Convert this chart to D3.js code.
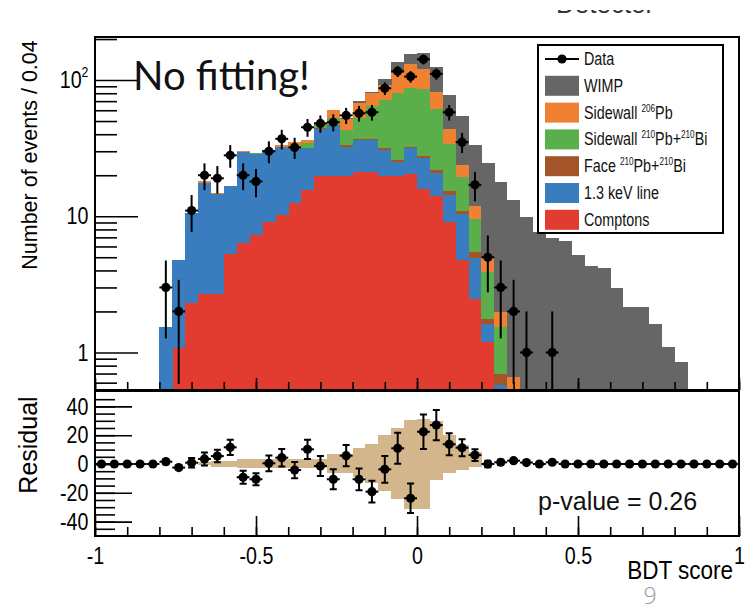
<!DOCTYPE html>
<html>
<head>
<meta charset="utf-8">
<script src="https://cdn.jsdelivr.net/npm/d3@7"></script>
<style>
body { margin: 0; background: #fff; }
svg { display: block; }
</style>
</head>
<body>
<svg width="747" height="611"></svg>
<script>
// 50 bins of 0.04 from -1 to 1
const binStart = -1, binWidth = 0.04

const dataCounts = [0,0,0,0,0, 3,2,11,20,19, 28,20,18,30,37, 32,45,48,49,55,
  57,58,87,116,106, 142,111,58,35,17, 5,3,2,1,0, 1,0,0,0,0, 0,0,0,0,0, 0,0,0,0,0]

const comptons = [0,0,0,0,0, 0.3,1.07,2.3,2.67,2.67, 5.25,6.4,7.25,9.0,10.2, 12.5,15.5,19.8,19.8,19.8,
  21,21,19.8,19.8,20.4, 15.8,14.0,9.0,4.75,2.48, 1.19,0.45,0.1,0.02,0, 0,0,0,0,0, 0,0,0,0,0, 0,0,0,0,0]
const keVLine = [0,0,0,0,0, 1.25,3.73,8.3,14.73,11.83, 11.35,23.1,21.45,21.4,21.8, 18.5,16.0,24.2,26.2,12.5,
  15.2,15.2,11.0,5.2,11.1, 10.8,6.6,5.4,5.55,2.42, 0.43,0.13,0.05,0.02,0, 0,0,0,0,0, 0,0,0,0,0, 0,0,0,0,0]
const face = [0,0,0,0,0, 0,0,0,0.1,0, 0,0.1,0.1,0.1,0.1, 0.2,0.3,0.3,0.4,0.9,
  1.0,1.0,1.0,1.0,1.0, 1.2,1.2,0.9,0.7,0.6, 0.15,0.12,0.05,0.02,0, 0,0,0,0,0, 0,0,0,0,0, 0,0,0,0,0]
const sidewall210 = [0,0,0,0,0, 0,0,0,0.1,0.1, 0.1,0.1,0.1,0.1,0.4, 1.8,2.5,2.2,6.6,9.8,
  15.1,27.2,39.5,54.0,55.5, 58.2,39.2,18.7,8.3,4.1, 2.13,0.85,0.25,0.09,0.04, 0.02,0,0,0,0, 0,0,0,0,0, 0,0,0,0,0]
const sidewall206 = [0,0,0,0,0, 0,0,0,0.4,0.1, 0.1,0.2,0.2,0.2,1.0, 2.0,1.9,2.9,7.0,8.7,
  15.1,15.4,20.6,32,43.0, 34.0,21.0,10.0,4.4,2.3, 1.1,0.43,0.21,0.15,0.06, 0.03,0.02,0,0,0, 0,0,0,0,0, 0,0,0,0,0]
const wimp = [0,0,0,0,0, 0,0,0,0,0, 0,0,0,0,0.1, 0.1,0.2,0.2,0.3,0.5,
  2.6,1.7,9.1,23,25, 39,43,34,30.3,21.6, 19.5,15.9,12.4,9.6,7.5, 6.85,6.6,5.2,4.3,4.2,
  2.95,2.15,2.15,1.63,1.09, 0.85,0.45,0.3,0.2,0.12]

const residual = [0,0,0,0,0, 1.6,-2.5,0.9,3.5,5.5, 11.6,-9.2,-10.6,0.5,4.4, -4.2,10.2,-1.4,-10.6,5.8,
  -10.6,-19.2,-3.7,10.9,-23.8, 22.4,27,13.7,11.3,6.2, 0,1.2,2.3,1.0,0, 1.2,0,0,0,0, 0,0,0,0,0, 0,0,0,0,0]
const bandHi = [0,0,0,0,0, 0,0,0,1.5,2, 2,3.5,3.5,3.5,3.5, 3.5,3.5,3.5,7,7,
  11,14,20,25,30.5, 31.5,30,20,13,8.6, 0,0,0,0,0, 0,0,0,0,0, 0,0,0,0,0, 0,0,0,0,0]
const bandLo = [0,0,0,0,0, 0,0,0,-1,-2, -2,-3,-3,-3,-3, -3,-3,-3,-6,-6,
  -9,-13,-19,-24,-31, -31,-11,-6,-4,-2, 0,0,0,0,0, 0,0,0,0,0, 0,0,0,0,0, 0,0,0,0,0]

const layerKeys = ["comptons", "keVLine", "face", "sidewall210", "sidewall206", "wimp"]
const layerColors = {comptons: "#e23c30", keVLine: "#3a7dbe", face: "#a35428",
  sidewall210: "#5aaf4a", sidewall206: "#f08133", wimp: "#666666"}
const legendItems = [
  {key: "data", label: ["Data"]},
  {key: "wimp", label: ["WIMP"]},
  {key: "sidewall206", label: ["Sidewall ", ["206"], "Pb"]},
  {key: "sidewall210", label: ["Sidewall ", ["210"], "Pb+", ["210"], "Bi"]},
  {key: "face", label: ["Face ", ["210"], "Pb+", ["210"], "Bi"]},
  {key: "keVLine", label: ["1.3 keV line"]},
  {key: "comptons", label: ["Comptons"]}
]

const SANS = "'Liberation Sans', Arial, sans-serif"
const squeeze = "scale(0.82,1)"

const svg = d3.select("svg")
const left = 95, right = 739, topY = 37, midY = 390, resTop = 391, bottom = 536

const x = d3.scaleLinear().domain([-1, 1]).range([left, right])
const yMin = 0.53
const y = d3.scaleLog().domain([yMin, 207]).range([midY, topY])
const yr = d3.scaleLinear().domain([-50, 50]).range([bottom, resTop + 1])

const bins = dataCounts.map((d, i) => {
  const row = {i: i, lo: binStart + i * binWidth, hi: binStart + (i + 1) * binWidth, data: d,
    res: residual[i], bHi: bandHi[i], bLo: bandLo[i]}
  row.comptons = comptons[i]; row.keVLine = keVLine[i]; row.face = face[i]
  row.sidewall210 = sidewall210[i]; row.sidewall206 = sidewall206[i]; row.wimp = wimp[i]
  return row
})

const stacked = d3.stack().keys(layerKeys)(bins)

const defs = svg.append("defs")
defs.append("clipPath").attr("id", "upclip")
  .append("rect").attr("x", left).attr("y", topY).attr("width", right - left).attr("height", midY - topY)
defs.append("clipPath").attr("id", "topclip")
  .append("rect").attr("x", 540).attr("y", 10).attr("width", 170).attr("height", 3.2)

// cut-off text at the very top
svg.append("text").attr("clip-path", "url(#topclip)")
  .attr("x", 556).attr("y", 13).attr("font-family", SANS).attr("font-size", 26)
  .attr("fill", "#333").text("Detector")

// stacked histogram
const up = svg.append("g").attr("clip-path", "url(#upclip)")
up.selectAll("g.layer").data(stacked).enter().append("g")
  .attr("class", "layer")
  .attr("fill", d => layerColors[d.key])
  .selectAll("rect").data(d => d.filter(s => s[1] - s[0] > 0)).enter().append("rect")
  .attr("shape-rendering", "crispEdges")
  .attr("x", s => x(s.data.lo))
  .attr("width", s => x(s.data.hi) - x(s.data.lo) + 0.3)
  .attr("y", s => y(Math.max(s[1], yMin)))
  .attr("height", s => y(Math.max(s[0], yMin)) - y(Math.max(s[1], yMin)))

// residual band
svg.append("g").selectAll("rect").data(bins.filter(b => b.bHi - b.bLo > 0)).enter().append("rect")
  .attr("shape-rendering", "crispEdges")
  .attr("fill", "#d4b68c")
  .attr("x", b => x(b.lo))
  .attr("width", b => x(b.hi) - x(b.lo) + 0.3)
  .attr("y", b => yr(b.bHi))
  .attr("height", b => yr(b.bLo) - yr(b.bHi))

// axes
function tickAxis(axis, g, size) {
  g.call(axis.tickSize(size))
  g.select(".domain").remove()
  g.selectAll("line").attr("stroke", "#000").attr("stroke-width", 1.6)
  return g
}
function labelStyle(g) {
  g.selectAll("text").attr("font-family", SANS).attr("font-size", 24).attr("fill", "#000")
    .attr("transform", squeeze)
}
const tenths = d3.range(-10, 11).map(d => d / 10)
const halves = [-1, -0.5, 0, 0.5, 1]

tickAxis(d3.axisBottom(x).tickValues(tenths).tickFormat(""),
  svg.append("g").attr("transform", `translate(0,${midY})`), -8)
tickAxis(d3.axisBottom(x).tickValues(halves).tickFormat(""),
  svg.append("g").attr("transform", `translate(0,${midY})`), -12)

tickAxis(d3.axisBottom(x).tickValues(tenths).tickFormat(""),
  svg.append("g").attr("transform", `translate(0,${bottom})`), -9)
const xAx = tickAxis(d3.axisBottom(x).tickValues(halves).tickFormat(d => String(d)).tickPadding(11),
  svg.append("g").attr("transform", `translate(0,${bottom})`), -20)
labelStyle(xAx)

const logMinor = [0.6, 0.7, 0.8, 0.9, 2, 3, 4, 5, 6, 7, 8, 9, 20, 30, 40, 50, 60, 70, 80, 90, 200]
tickAxis(d3.axisLeft(y).tickValues(logMinor).tickFormat(""),
  svg.append("g").attr("transform", `translate(${left},0)`), -22)
const yAx = tickAxis(d3.axisLeft(y).tickValues([1, 10, 100]).tickFormat(d => d).tickPadding(8),
  svg.append("g").attr("transform", `translate(${left},0)`), -43)
labelStyle(yAx)
yAx.selectAll("text").each(function(d) {
  if (d === 100) {
    const t = d3.select(this).text("10")
    t.append("tspan").attr("font-size", 15).attr("dy", "-0.75em").text("2")
  }
})

tickAxis(d3.axisLeft(yr).tickValues(d3.range(-45, 50, 5)).tickFormat(""),
  svg.append("g").attr("transform", `translate(${left},0)`), -20)
const rAx = tickAxis(d3.axisLeft(yr).tickValues([-40, -20, 0, 20, 40]).tickFormat(d => String(d)).tickPadding(8),
  svg.append("g").attr("transform", `translate(${left},0)`), -37)
labelStyle(rAx)

// data points, upper panel
const pts = bins.filter(b => b.data > 0)
const dp = svg.append("g").attr("stroke", "#000").attr("stroke-width", 2)
dp.selectAll("line.v").data(pts).enter().append("line").attr("class", "v")
  .attr("x1", b => x((b.lo + b.hi) / 2)).attr("x2", b => x((b.lo + b.hi) / 2))
  .attr("y1", b => y(b.data + Math.sqrt(b.data)))
  .attr("y2", b => y(Math.max(b.data - Math.sqrt(b.data), yMin)))
dp.selectAll("line.h").data(pts).enter().append("line").attr("class", "h")
  .attr("x1", b => x(b.lo)).attr("x2", b => x(b.hi))
  .attr("y1", b => y(b.data)).attr("y2", b => y(b.data))
dp.selectAll("circle").data(pts).enter().append("circle")
  .attr("cx", b => x((b.lo + b.hi) / 2)).attr("cy", b => y(b.data)).attr("r", 4.6)
  .attr("fill", "#000").attr("stroke", "none")

// residual points
const rp = svg.append("g").attr("stroke", "#000").attr("stroke-width", 2)
const withErr = bins.filter(b => b.data > 0)
rp.selectAll("line.v").data(withErr).enter().append("line").attr("class", "v")
  .attr("x1", b => x((b.lo + b.hi) / 2)).attr("x2", b => x((b.lo + b.hi) / 2))
  .attr("y1", b => yr(b.res + Math.sqrt(b.data))).attr("y2", b => yr(b.res - Math.sqrt(b.data)))
rp.selectAll("path.cap").data(withErr).enter().append("path").attr("class", "cap")
  .attr("fill", "none")
  .attr("d", b => {
    const cx = x((b.lo + b.hi) / 2), a = yr(b.res + Math.sqrt(b.data)), c = yr(b.res - Math.sqrt(b.data))
    return `M${cx - 3.5},${a}H${cx + 3.5}M${cx - 3.5},${c}H${cx + 3.5}`
  })
rp.selectAll("line.h").data(bins).enter().append("line").attr("class", "h")
  .attr("x1", b => x(b.lo)).attr("x2", b => x(b.hi))
  .attr("y1", b => yr(b.res)).attr("y2", b => yr(b.res))
rp.selectAll("circle").data(bins).enter().append("circle")
  .attr("cx", b => x((b.lo + b.hi) / 2)).attr("cy", b => yr(b.res)).attr("r", 4.6)
  .attr("fill", "#000").attr("stroke", "none")

// frames
svg.append("rect").attr("x", left).attr("y", topY).attr("width", right - left).attr("height", midY - topY)
  .attr("fill", "none").attr("stroke", "#000").attr("stroke-width", 2)
svg.append("rect").attr("x", left).attr("y", resTop).attr("width", right - left).attr("height", bottom - resTop)
  .attr("fill", "none").attr("stroke", "#000").attr("stroke-width", 2)

// legend
const lg = svg.append("g")
lg.append("rect").attr("x", 538).attr("y", 45).attr("width", 185).attr("height", 188)
  .attr("fill", "#fff").attr("stroke", "#000").attr("stroke-width", 2)
legendItems.forEach((it, i) => {
  const cy = 59 + i * 26.8
  if (it.key === "data") {
    lg.append("line").attr("x1", 545).attr("x2", 579).attr("y1", cy).attr("y2", cy)
      .attr("stroke", "#000").attr("stroke-width", 2)
    lg.append("circle").attr("cx", 562).attr("cy", cy).attr("r", 4.6).attr("fill", "#000")
  } else {
    lg.append("rect").attr("x", 545).attr("y", cy - 10).attr("width", 34).attr("height", 20)
      .attr("fill", layerColors[it.key])
  }
  const t = lg.append("text").attr("transform", `translate(584,${cy + 6}) ${squeeze}`)
    .attr("font-family", SANS).attr("font-size", 17.5).attr("fill", "#111")
  let raised = false
  it.label.forEach(part => {
    if (Array.isArray(part)) {
      t.append("tspan").attr("font-size", 10).attr("dy", -7).text(part[0])
      raised = true
    } else {
      t.append("tspan").attr("dy", raised ? 7 : 0).text(part)
      raised = false
    }
  })
})

// texts
svg.append("text").attr("x", 133).attr("y", 90).attr("font-family", "Lato, 'Liberation Sans', sans-serif")
  .attr("font-size", 40).attr("fill", "#111").text("No fitting!")
svg.append("text").attr("x", 538).attr("y", 510).attr("font-family", SANS)
  .attr("font-size", 25).attr("fill", "#111").text("p-value = 0.26")
svg.append("text").attr("transform", "translate(733,579) scale(0.9,1)").attr("text-anchor", "end")
  .attr("font-family", SANS).attr("font-size", 25).attr("fill", "#000").text("BDT score")
svg.append("text").attr("transform", "translate(37,155) rotate(-90)").attr("text-anchor", "middle")
  .attr("font-family", SANS).attr("font-size", 21.5).attr("fill", "#000").text("Number of events / 0.04")
svg.append("text").attr("transform", "translate(37,445) rotate(-90)").attr("text-anchor", "middle")
  .attr("font-family", SANS).attr("font-size", 25).attr("fill", "#000").text("Residual")
svg.append("text").attr("x", 650).attr("y", 604).attr("text-anchor", "middle").attr("font-family", "'Open Sans', sans-serif")
  .attr("font-weight", 300).attr("font-size", 23).attr("fill", "#999").text("9")
</script>
</body>
</html>
